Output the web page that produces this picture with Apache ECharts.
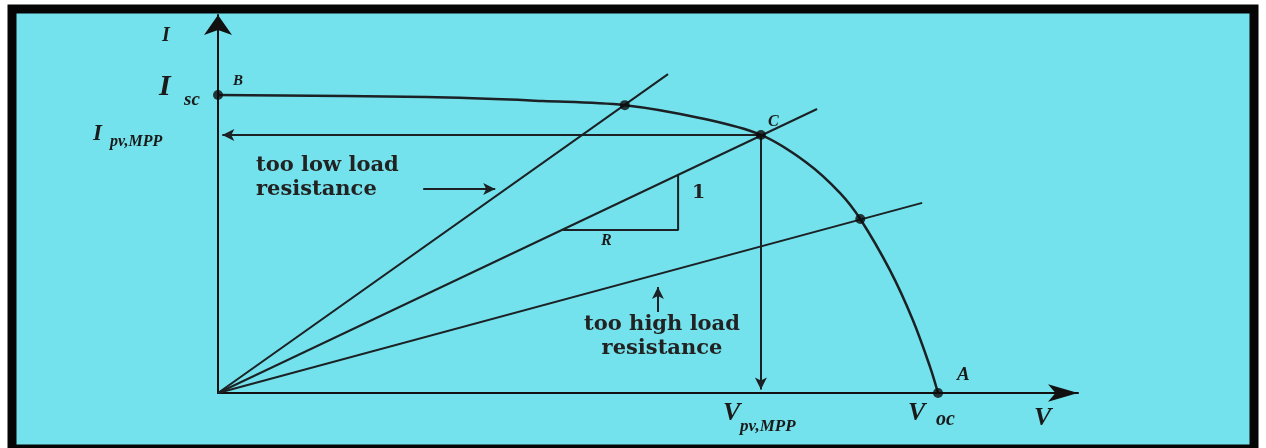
<!DOCTYPE html>
<html>
<head>
<meta charset="utf-8">
<script src="https://cdn.jsdelivr.net/npm/echarts@6/dist/echarts.min.js"></script>
<style>
  html, body { margin: 0; padding: 0; background: #fff; }
  #chart { width: 1266px; height: 448px; }
</style>
</head>
<body>
<div id="chart"></div>
<script>
// normalised I-V curve of a PV module: V / Voc, I / Isc
const curveV = [0, 0.29, 0.451, 0.565, 0.669, 0.754, 0.818, 0.864, 0.892, 0.933, 0.965, 0.989, 1.0];
const curveI = [1.0, 0.993, 0.98, 0.966, 0.923, 0.866, 0.772, 0.671, 0.584, 0.413, 0.245, 0.087, 0];

// load lines from origin (end points)
const loadLow = [0.625, 1.07];
const loadOpt = [0.832, 0.953];
const loadHigh = [0.978, 0.638];

// marked points: B (Isc), low-load, C (MPP), high-load, A (Voc)
const dotsV = [0, 0.565, 0.754, 0.892, 1.0];
const dotsI = [1.0, 0.966, 0.866, 0.584, 0];
const mpp = [0.754, 0.866];

// slope triangle on the optimum load line
const triV = [0.479, 0.639, 0.639];
const triI = [0.547, 0.547, 0.735];

// pointer arrows for the text notes
const lowArrow = [[0.285, 0.685], [0.385, 0.685]];
const highArrow = [[0.611, 0.272], [0.611, 0.356]];

const ink = "#1b2124";
const serif = "DejaVu Serif";
const times = "Liberation Serif";

var myChart = echarts.init(document.getElementById("chart"));

function txt(x, y, s, size) {
  return {
    type: "text",
    left: x,
    top: y,
    z: 100,
    style: {
      text: s,
      fontFamily: times,
      fontSize: size,
      fontStyle: "italic",
      fontWeight: "bold",
      fill: "#1a1a1a",
    },
  };
}

function note(x, y, s, align) {
  return {
    type: "text",
    x: x,
    y: y,
    z: 100,
    style: {
      text: s,
      fontFamily: serif,
      fontWeight: "bold",
      fontSize: 21,
      lineHeight: 24,
      fill: "#222",
      align: align,
    },
  };
}

var option = {
  animation: false,
  backgroundColor: "#fff",
  grid: { left: 218, top: 15, right: 188, bottom: 55 },
  xAxis: {
    type: "value",
    min: 0,
    max: 1.1944,
    axisLine: {
      lineStyle: { color: "#111", width: 2 },
      symbol: ["none", "arrow"],
      symbolSize: [13, 30],
    },
    axisTick: { show: false },
    axisLabel: { show: false },
    splitLine: { show: false },
  },
  yAxis: {
    type: "value",
    min: 0,
    max: 1.2685,
    axisLine: {
      lineStyle: { color: "#111", width: 2 },
      symbol: ["none", "arrow"],
      symbolSize: [21, 20],
    },
    axisTick: { show: false },
    axisLabel: { show: false },
    splitLine: { show: false },
  },
  graphic: [
    {
      type: "rect",
      z: -10,
      shape: { x: 12, y: 9, width: 1242, height: 440 },
      style: { fill: "#73e2ec", stroke: "#050505", lineWidth: 9 },
    },
    txt(162, 26, "I", 20),
    txt(159, 72, "I", 30),
    txt(184, 91, "sc", 19),
    txt(93, 123, "I", 23),
    txt(110, 134, "pv,MPP", 16),
    txt(233, 74, "B", 15),
    txt(768, 114, "C", 16),
    txt(957, 366, "A", 19),
    txt(723, 400, "V", 26),
    txt(740, 418, "pv,MPP", 17),
    txt(908, 400, "V", 26),
    txt(936, 410, "oc", 20),
    txt(1034, 405, "V", 26),
    txt(601, 233, "R", 16),
    {
      type: "text", left: 692, top: 184, z: 100,
      style: { text: "1", fontFamily: serif, fontWeight: "bold", fontSize: 19, fill: "#222" },
    },
    note(256, 154, "too low load\nresistance", "left"),
    note(662, 313, "too high load\nresistance", "center"),
  ],
  series: [
    {
      name: "I-V curve",
      type: "line",
      smooth: 0.35,
      symbol: "none",
      data: curveV.map((v, i) => [v, curveI[i]]),
      lineStyle: { color: ink, width: 2.5 },
    },
    {
      name: "too low load",
      type: "line",
      symbol: "none",
      data: [[0, 0], loadLow],
      lineStyle: { color: ink, width: 2 },
    },
    {
      name: "optimum load",
      type: "line",
      symbol: "none",
      data: [[0, 0], loadOpt],
      lineStyle: { color: ink, width: 2 },
    },
    {
      name: "too high load",
      type: "line",
      symbol: "none",
      data: [[0, 0], loadHigh],
      lineStyle: { color: ink, width: 2 },
    },
    {
      name: "slope",
      type: "line",
      symbol: "none",
      data: triV.map((v, i) => [v, triI[i]]),
      lineStyle: { color: ink, width: 2 },
    },
    {
      name: "points",
      type: "scatter",
      symbolSize: 10,
      data: dotsV.map((v, i) => [v, dotsI[i]]),
      itemStyle: { color: "#0b0b0b" },
      z: 5,
      markLine: {
        silent: true,
        symbol: ["none", "arrow"],
        symbolSize: [9, 12],
        label: { show: false },
        lineStyle: { color: ink, width: 2, type: "solid" },
        data: [
          [{ coord: mpp }, { coord: [0.006, mpp[1]] }],
          [{ coord: mpp }, { coord: [mpp[0], 0.012] }],
          [{ coord: lowArrow[0] }, { coord: lowArrow[1] }],
          [{ coord: highArrow[0] }, { coord: highArrow[1] }],
        ],
      },
    },
  ],
};

myChart.setOption(option);
</script>
</body>
</html>
